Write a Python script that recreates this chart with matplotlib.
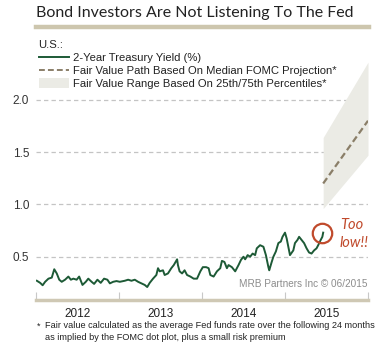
import matplotlib
matplotlib.use("Agg")
import matplotlib.pyplot as plt
from matplotlib.lines import Line2D
from matplotlib.patches import Patch

# ---- data ----
yield_dates = [2012.01, 2012.05, 2012.08, 2012.11, 2012.15, 2012.19, 2012.22, 2012.25, 2012.28, 2012.31,
               2012.35, 2012.39, 2012.42, 2012.45, 2012.49, 2012.52, 2012.56, 2012.60, 2012.63, 2012.67,
               2012.70, 2012.74, 2012.78, 2012.82, 2012.86, 2012.89, 2012.93, 2012.97, 2013.01, 2013.07,
               2013.11, 2013.15, 2013.19, 2013.23, 2013.27, 2013.31, 2013.34, 2013.37, 2013.41, 2013.45,
               2013.47, 2013.49, 2013.53, 2013.55, 2013.59, 2013.63, 2013.66, 2013.70, 2013.71, 2013.73,
               2013.76, 2013.79, 2013.82, 2013.86, 2013.90, 2013.94, 2013.98, 2014.01, 2014.05, 2014.08,
               2014.10, 2014.14, 2014.18, 2014.22, 2014.24, 2014.27, 2014.30, 2014.32, 2014.36, 2014.40,
               2014.44, 2014.47, 2014.50, 2014.52, 2014.55, 2014.58, 2014.61, 2014.64, 2014.66, 2014.70,
               2014.74, 2014.77, 2014.80, 2014.81, 2014.84, 2014.86, 2014.89, 2014.92, 2014.95, 2014.97,
               2015.00, 2015.02, 2015.04, 2015.06, 2015.10, 2015.12, 2015.15, 2015.17, 2015.20, 2015.23,
               2015.26, 2015.29, 2015.32, 2015.35, 2015.38, 2015.40, 2015.43, 2015.45, 2015.46]
yield_values = [0.27, 0.25, 0.227, 0.26, 0.29, 0.30, 0.38, 0.34, 0.28, 0.26,
                0.28, 0.31, 0.28, 0.29, 0.28, 0.31, 0.23, 0.26, 0.29, 0.26,
                0.24, 0.28, 0.25, 0.29, 0.28, 0.245, 0.26, 0.267, 0.26, 0.27,
                0.28, 0.27, 0.28, 0.26, 0.245, 0.23, 0.21, 0.25, 0.29, 0.325,
                0.39, 0.36, 0.37, 0.325, 0.34, 0.39, 0.42, 0.475, 0.42, 0.36,
                0.34, 0.37, 0.325, 0.31, 0.29, 0.29, 0.36, 0.40, 0.40, 0.39,
                0.325, 0.31, 0.36, 0.39, 0.46, 0.45, 0.39, 0.42, 0.40, 0.36,
                0.42, 0.47, 0.50, 0.475, 0.515, 0.50, 0.53, 0.515, 0.58, 0.61,
                0.595, 0.515, 0.40, 0.37, 0.45, 0.50, 0.55, 0.63, 0.645, 0.69,
                0.73, 0.675, 0.595, 0.515, 0.56, 0.63, 0.66, 0.69, 0.66, 0.63,
                0.58, 0.54, 0.53, 0.56, 0.58, 0.61, 0.66, 0.69, 0.73]

fair_dates = [2015.46, 2016.0]
fair_median = [1.20, 1.80]
fair_low = [0.96, 1.47]
fair_high = [1.64, 2.36]

year_labels = ["2012", "2013", "2014", "2015"]
year_starts = [2012, 2013, 2014, 2015, 2016]
y_ticks = [0.5, 1.0, 1.5, 2.0]

highlight_point = (2015.45, 0.73)

# ---- figure ----
plt.rcParams['font.family'] = ['Liberation Sans', 'DejaVu Sans']
W, H = 390, 349
fig = plt.figure(figsize=(W / 100, H / 100), dpi=100)

left, right, top, bottom = 36, 368, 36, 300
ax = fig.add_axes([left / W, 1 - bottom / H, (right - left) / W, (bottom - top) / H])
ax.set_xlim(2012, 2016)
ax.set_ylim(0.086, 2.61)

green = "#1d5a36"
band_col = "#ebebe5"
dash_col = "#8a7e68"
red = "#c04a2c"

for yv in y_ticks:
    ax.axhline(yv, color="#c4c4c4", lw=0.9, ls=(0, (3.5, 2.5)), zorder=1)

ax.fill_between(fair_dates, fair_low, fair_high, color=band_col, lw=0, zorder=2)
ax.plot(fair_dates, fair_median, color=dash_col, lw=1.6, ls=(0, (3, 1.6)), zorder=3)
ax.plot(yield_dates, yield_values, color=green, lw=1.4, zorder=4)

ax.plot([highlight_point[0]], [highlight_point[1]], marker='o', ms=14, mfc='none',
        mec=red, mew=1.6, zorder=5)
ax.text(2015.66, 0.80, "Too", color=red, fontsize=10.5, style='italic',
        family=['Lato', 'DejaVu Sans'], ha='left', va='center')
ax.text(2015.66, 0.635, "low!!", color=red, fontsize=10.5, style='italic',
        family=['Lato', 'DejaVu Sans'], ha='left', va='center')

ax.text(0.999, 0.06, "MRB Partners Inc \u00a9 06/2015", transform=ax.transAxes,
        ha='right', va='center', fontsize=7.2, color="#8c8c8c")

for s in ['left', 'right', 'top']:
    ax.spines[s].set_visible(False)
ax.spines['bottom'].set_color("#cfc8b4")
ax.spines['bottom'].set_linewidth(2.5)

ax.set_xticks(year_starts)
ax.set_xticklabels([])
ax.tick_params(axis='x', direction='in', length=6, color="#c8c8c8", width=0.8)
ax.set_xticks([y + 0.5 for y in year_starts[:-1]], minor=True)
ax.set_xticklabels(year_labels, minor=True)
ax.tick_params(axis='x', which='minor', length=0, pad=6, labelsize=8.5, labelcolor="#222222")

ax.set_yticks(y_ticks)
ax.set_yticklabels([f"{v:.1f}" for v in y_ticks])
ax.tick_params(axis='y', length=0, pad=5, labelsize=8.5, labelcolor="#333333")

handles = [Line2D([], [], color=green, lw=1.4),
           Line2D([], [], color=dash_col, lw=1.4, ls=(0, (3, 1.6))),
           Patch(facecolor=band_col, edgecolor='none')]
labels = ["2-Year Treasury Yield (%)",
          "Fair Value Path Based On Median FOMC Projection*",
          "Fair Value Range Based On 25th/75th Percentiles*"]
leg = ax.legend(handles, labels, title="U.S.:", loc='upper left', bbox_to_anchor=(-0.006, 1.0),
                frameon=False, fontsize=8.1, title_fontsize=8.1, handlelength=2.7,
                handleheight=0.9, handletextpad=0.4, labelspacing=0.2, borderaxespad=0,
                alignment='left')
for t in leg.get_texts():
    t.set_color("#222222")
leg.get_title().set_color("#222222")

# title and rule
fig.text(left / W, 1 - 13 / H, "Bond Investors Are Not Listening To The Fed",
         fontsize=11.5, family=['Lato', 'DejaVu Sans'], color="#222222", ha='left', va='center')
fig.add_artist(Line2D([left / W, 369 / W], [1 - 27 / H, 1 - 27 / H], color="#cdc6ae", lw=3.2,
                      transform=fig.transFigure))

fig.text(37 / W, 1 - 326 / H, "*", fontsize=6.6, color="#222222", ha='left', va='center')
fig.text(45 / W, 1 - 326 / H,
         "Fair value calculated as the average Fed funds rate over the following 24 months",
         fontsize=6.6, color="#222222", ha='left', va='center')
fig.text(45 / W, 1 - 337 / H, "as implied by the FOMC dot plot, plus a small risk premium",
         fontsize=6.6, color="#222222", ha='left', va='center')

fig.savefig("out.png", dpi=100)
